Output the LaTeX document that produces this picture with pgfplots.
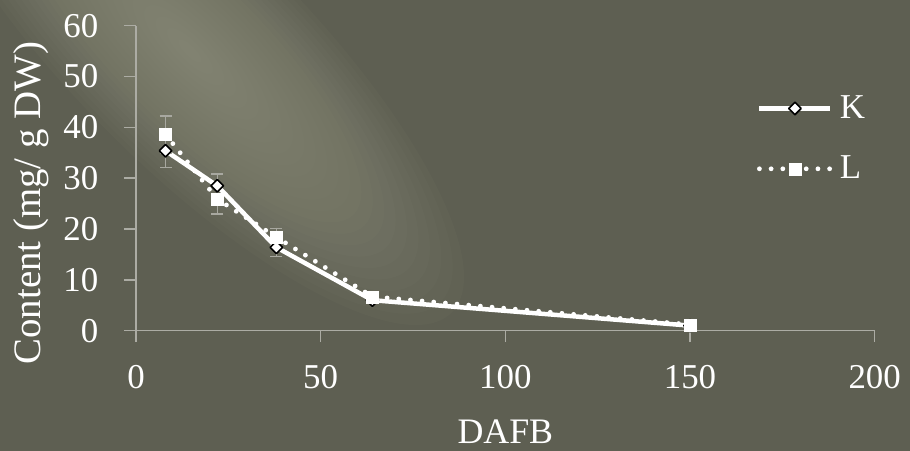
\documentclass[border=0pt]{standalone}
\usepackage{pgfplots}
\pgfplotsset{compat=1.18}
\usepackage{pgfplotstable}
\usepackage{fontspec}
\setmainfont{Liberation Serif}

\definecolor{bgbase}{RGB}{94,95,82}
\definecolor{bglight}{RGB}{150,152,132}
\definecolor{axisgray}{RGB}{172,172,164}
\definecolor{errgray}{RGB}{168,168,160}

% DAFB, content, standard deviation
\pgfplotstableread{
x    y     e
8    35.4  3.3
22   28.5  2.3
38   16.4  1.8
64   6.0   0.5
150  1.0   0.2
}\seriesK
\pgfplotstableread{
x    y     e
8    38.6  3.6
22   25.9  2.9
38   18.4  1.7
64   6.7   0.6
150  1.2   0.2
}\seriesL

\begin{document}
\begin{tikzpicture}
\useasboundingbox (0,0) rectangle (910bp,451bp);
\fill[bgbase] (0,0) rectangle (910bp,451bp);
% soft diagonal light streak in the upper left
\begin{scope}
  \clip (0,0) rectangle (910bp,451bp);
  \foreach \i in {1,...,24}{
    \fill[bglight, opacity=0.055, rotate around={-45:(190bp,400bp)}]
      (190bp,400bp) ellipse ({370bp*\i/24} and {115bp*\i/24});
  }
\end{scope}
\begin{axis}[
  at={(136bp,120.3bp)}, anchor=south west,
  scale only axis, width=738.7bp, height=305bp,
  xmin=0, xmax=200, ymin=0, ymax=60,
  xtick={0,50,100,150,200}, ytick={0,10,20,30,40,50,60},
  axis x line*=bottom, axis y line*=left,
  axis line style={draw=axisgray, line width=1.5bp},
  tick style={draw=axisgray, line width=1.5bp},
  tick align=outside, major tick length=11.5bp,
  /pgf/number format/assume math mode=true,
  ticklabel style={font=\fontsize{35}{42}\selectfont, text=white},
  yticklabel style={anchor=east, inner sep=0pt, xshift=-26bp},
  xticklabel style={anchor=north, inner sep=0pt, yshift=-23bp},
  xlabel={DAFB}, ylabel={Content (mg/ g DW)},
  label style={text=white},
  xlabel style={font=\fontsize{36}{42}\selectfont, at={(axis description cs:0.5,-0.293)}, anchor=north, inner sep=0pt},
  ylabel style={font=\fontsize{39}{46}\selectfont, at={(axis description cs:-0.1412,0.418)}, anchor=center, inner sep=0pt},
  clip=false,
  legend image code/.code={\draw[mark repeat=2, mark phase=2, #1] plot coordinates {(0bp,-1bp) (35.5bp,-1bp) (71bp,-1bp)};},
  legend style={draw=none, fill=none, at={(axis description cs:0.8407,0.633)}, anchor=west,
    inner sep=0pt, outer sep=0pt, row sep=36bp, column sep=7bp,
    font=\fontsize{35}{42}\selectfont, text=white, nodes={inner sep=0pt}},
  legend cell align=left,
]
\addplot[white, line width=4.5bp, line join=round,
  mark=square*, mark size=4.4bp,
  mark options={rotate=45, fill=white, draw=black, line width=1.6bp},
  error bars/.cd, y dir=both, y explicit,
  error bar style={errgray, line width=1.5bp, solid},
  error mark options={errgray, line width=1.5bp, mark size=6bp, rotate=90, solid}]
  table[x=x, y=y, y error=e] {\seriesK};
\addlegendentry{K}
\addplot[white, line width=4.8bp, line cap=round, dash pattern=on 0bp off 11.7bp,
  mark=square*, mark size=6bp,
  mark options={solid, fill=white, draw=white, line width=0.1bp},
  error bars/.cd, y dir=both, y explicit,
  error bar style={errgray, line width=1.5bp, solid},
  error mark options={errgray, line width=1.5bp, mark size=6bp, rotate=90, solid}]
  table[x=x, y=y, y error=e] {\seriesL};
\addlegendentry{L}
\end{axis}
\end{tikzpicture}
\end{document}
